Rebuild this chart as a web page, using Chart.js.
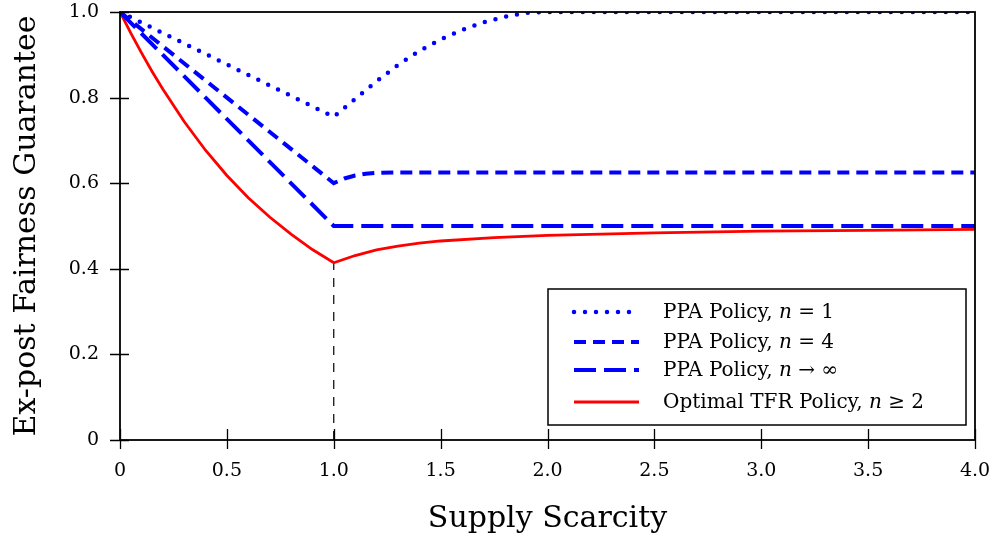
<!DOCTYPE html>
<html>
<head>
<meta charset="utf-8">
<script src="https://cdn.jsdelivr.net/npm/chart.js@4.4.1/dist/chart.umd.min.js"></script>
<style>
body { margin: 0; background: #fff; }
#wrap { width: 995px; height: 543px; }
</style>
</head>
<body>
<div id="wrap"><canvas id="fairChart" width="995" height="543"></canvas></div>
<script>
// values (supply scarcity -> ex-post fairness guarantee)
const ppa1X = [0, 1.0, 1.1, 1.2, 1.3, 1.4, 1.5, 1.6, 1.7, 1.8, 1.9, 2.0, 4.0];
const ppa1Y = [1.0, 0.755, 0.797, 0.838, 0.876, 0.909, 0.936, 0.958, 0.976, 0.989, 0.998, 1.0, 1.0];

const ppa4X = [0, 1.0, 1.05, 1.1, 1.15, 1.2, 1.3, 4.0];
const ppa4Y = [1.0, 0.600, 0.611, 0.618, 0.622, 0.624, 0.625, 0.625];

const ppaInfX = [0, 1.0, 4.0];
const ppaInfY = [1.0, 0.5, 0.5];

const tfrX = [0, 0.05, 0.1, 0.15, 0.2, 0.3, 0.4, 0.5, 0.6, 0.7, 0.8, 0.9, 1.0,
              1.1, 1.2, 1.3, 1.4, 1.5, 1.75, 2.0, 2.5, 3.0, 3.5, 4.0];
const tfrY = [1.0, 0.951, 0.905, 0.861, 0.820, 0.744, 0.677, 0.618, 0.566, 0.521, 0.481, 0.445, 0.414,
              0.431, 0.444, 0.453, 0.460, 0.465, 0.473, 0.478, 0.484, 0.488, 0.490, 0.492];

const markerX = [1.0, 1.0];
const markerY = [0, 0.414];

const xTicks = [0, 0.5, 1.0, 1.5, 2.0, 2.5, 3.0, 3.5, 4.0];
const xTickLabels = ['0', '0.5', '1.0', '1.5', '2.0', '2.5', '3.0', '3.5', '4.0'];
const yTicks = [0, 0.2, 0.4, 0.6, 0.8, 1.0];
const yTickLabels = ['0', '0.2', '0.4', '0.6', '0.8', '1.0'];

// legend text split as [roman, italic, roman]
const legendParts = [
    ['PPA Policy, ', 'n', ' = 1'],
    ['PPA Policy, ', 'n', ' = 4'],
    ['PPA Policy, ', 'n', ' \u2192 \u221E'],
    ['Optimal TFR Policy, ', 'n', ' \u2265 2']
];

const SERIF = "'DejaVu Serif', 'Liberation Serif', serif";
const BLUE = '#0000ff';
const RED = '#ff0000';

const toPoints = (xs, ys) => xs.map((x, i) => ({ x: x, y: ys[i] }));

const frame = {
    id: 'frame',
    afterDatasetsDraw(chart) {
        const { ctx, chartArea, scales } = chart;
        ctx.save();
        ctx.strokeStyle = '#000';
        ctx.lineWidth = 1.3;
        ctx.beginPath();
        yTicks.forEach(v => {
            const py = Math.round(scales.y.getPixelForValue(v)) + 0.5;
            ctx.moveTo(chartArea.left - 10, py);
            ctx.lineTo(chartArea.left + 9, py);
        });
        xTicks.forEach(v => {
            const px = Math.round(scales.x.getPixelForValue(v)) + 0.5;
            ctx.moveTo(px, chartArea.bottom - 11);
            ctx.lineTo(px, chartArea.bottom + 9);
        });
        ctx.stroke();
        ctx.lineWidth = 1.8;
        ctx.strokeRect(chartArea.left, chartArea.top, chartArea.right - chartArea.left, chartArea.bottom - chartArea.top);
        ctx.restore();
    }
};

const legendBox = {
    id: 'legendBox',
    afterDatasetsDraw(chart) {
        const { ctx, chartArea } = chart;
        const w = 418, h = 136;
        const x0 = chartArea.right - 9 - w;
        const y0 = chartArea.bottom - 15 - h;
        ctx.save();
        ctx.fillStyle = '#fff';
        ctx.fillRect(x0, y0, w, h);
        ctx.strokeStyle = '#000';
        ctx.lineWidth = 1.5;
        ctx.strokeRect(x0, y0, w, h);

        const rowY = [23, 53, 81, 113];
        chart.data.datasets.slice(0, 4).forEach((ds, i) => {
            const y = y0 + rowY[i];
            ctx.save();
            ctx.strokeStyle = ds.borderColor;
            ctx.lineWidth = ds.borderWidth;
            ctx.lineCap = ds.borderCapStyle || 'butt';
            ctx.setLineDash(ds.borderDash || []);
            ctx.beginPath();
            ctx.moveTo(x0 + 26, y);
            ctx.lineTo(x0 + 91, y);
            ctx.stroke();
            ctx.restore();

            let tx = x0 + 115;
            ctx.fillStyle = '#000';
            ctx.textBaseline = 'middle';
            legendParts[i].forEach((part, k) => {
                ctx.font = (k === 1 ? 'italic ' : '') + '20px ' + SERIF;
                ctx.fillText(part, tx, y + 1);
                tx += ctx.measureText(part).width;
            });
        });
        ctx.restore();
    }
};

const ctx = document.getElementById('fairChart').getContext('2d');
const fairChart = new Chart(ctx, {
    type: 'line',
    data: {
        datasets: [
            {
                label: 'PPA Policy, n = 1',
                data: toPoints(ppa1X, ppa1Y),
                borderColor: BLUE,
                borderWidth: 4.5,
                borderDash: [0, 11],
                borderCapStyle: 'round'
            },
            {
                label: 'PPA Policy, n = 4',
                data: toPoints(ppa4X, ppa4Y),
                borderColor: BLUE,
                borderWidth: 4,
                borderDash: [12, 7]
            },
            {
                label: 'PPA Policy, n \u2192 \u221E',
                data: toPoints(ppaInfX, ppaInfY),
                borderColor: BLUE,
                borderWidth: 4,
                borderDash: [22, 8]
            },
            {
                label: 'Optimal TFR Policy, n \u2265 2',
                data: toPoints(tfrX, tfrY),
                borderColor: RED,
                borderWidth: 2.8
            },
            {
                label: 'marker',
                data: toPoints(markerX, markerY),
                borderColor: '#000',
                borderWidth: 1.2,
                borderDash: [9, 8]
            }
        ]
    },
    options: {
        responsive: false,
        animation: false,
        layout: { padding: { top: 12, right: 20, left: 0, bottom: 0 } },
        elements: {
            point: { radius: 0 },
            line: { tension: 0, fill: false }
        },
        scales: {
            x: {
                type: 'linear',
                min: 0,
                max: 4,
                afterBuildTicks: (scale) => { scale.ticks = xTicks.map(v => ({ value: v })); },
                afterFit: (scale) => {
                    scale.height = 103;
                    scale.paddingLeft = 0;
                    scale.paddingRight = 0;
                },
                grid: { display: false },
                border: { display: false },
                ticks: {
                    autoSkip: false,
                    maxRotation: 0,
                    padding: 12,
                    color: '#000',
                    font: { family: SERIF, size: 19 },
                    callback: (v) => xTickLabels[xTicks.indexOf(v)]
                },
                title: {
                    display: true,
                    text: 'Supply Scarcity',
                    color: '#000',
                    font: { family: SERIF, size: 30 },
                    padding: { top: 6, bottom: 6 }
                }
            },
            y: {
                min: 0,
                max: 1,
                afterBuildTicks: (scale) => { scale.ticks = yTicks.map(v => ({ value: v })); },
                afterFit: (scale) => {
                    scale.width = 120;
                    scale.paddingTop = 0;
                    scale.paddingBottom = 0;
                },
                grid: { display: false },
                border: { display: false },
                ticks: {
                    padding: 13,
                    color: '#000',
                    font: { family: SERIF, size: 19 },
                    callback: (v) => yTickLabels[yTicks.indexOf(v)]
                },
                title: {
                    display: true,
                    text: 'Ex-post Fairness Guarantee',
                    color: '#000',
                    font: { family: SERIF, size: 30 },
                    padding: { top: 9, bottom: 9 }
                }
            }
        },
        plugins: {
            legend: { display: false },
            tooltip: { enabled: false }
        }
    },
    plugins: [frame, legendBox]
});
</script>
</body>
</html>
